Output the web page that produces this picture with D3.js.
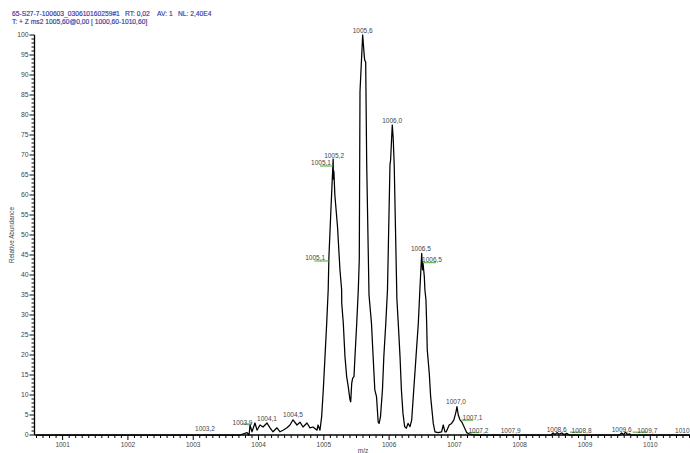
<!DOCTYPE html>
<html>
<head>
<meta charset="utf-8">
<script src="https://cdn.jsdelivr.net/npm/d3@7"></script>
<style>
  html, body { margin: 0; padding: 0; background: #fff; }
  svg { display: block; }
  text { font-family: "Liberation Sans", Arial, sans-serif; }
</style>
</head>
<body>
<svg id="chart" width="690" height="453"></svg>
<script>
// ---------- data ----------
const titleLine1 = ["65-S27-7-100603_030610160259#1", "RT: 0,02", "AV: 1", "NL: 2,40E4"];
const titleLine2 = "T: + Z ms2 1005,60@0,00 [ 1000,60-1010,60]";
const xTicks = [1001, 1002, 1003, 1004, 1005, 1006, 1007, 1008, 1009, 1010];
const yTicks = [0, 5, 10, 15, 20, 25, 30, 35, 40, 45, 50, 55, 60, 65, 70, 75, 80, 85, 90, 95, 100];
const xLabel = "m/z";
const yLabel = "Relative Abundance";

const spectrumMz = [
  1000.600, 1003.716, 1003.824, 1003.855, 1003.870, 1003.900, 1003.946, 1003.977, 1004.023, 1004.069,
  1004.130, 1004.176, 1004.222, 1004.283, 1004.329, 1004.375, 1004.436, 1004.482, 1004.528, 1004.589,
  1004.635, 1004.681, 1004.742, 1004.788, 1004.834, 1004.896, 1004.911, 1004.941, 1004.967, 1004.992,
  1005.018, 1005.044, 1005.067, 1005.078, 1005.108, 1005.143, 1005.146, 1005.154, 1005.169, 1005.210,
  1005.247, 1005.273, 1005.274, 1005.298, 1005.324, 1005.350, 1005.374, 1005.401, 1005.412, 1005.427,
  1005.442, 1005.462, 1005.477, 1005.504, 1005.528, 1005.543, 1005.554, 1005.595, 1005.620, 1005.628,
  1005.641, 1005.657, 1005.692, 1005.730, 1005.755, 1005.781, 1005.807, 1005.832, 1005.847, 1005.868,
  1005.898, 1005.919, 1005.949, 1005.975, 1006.013, 1006.023, 1006.048, 1006.055, 1006.063, 1006.078,
  1006.119, 1006.140, 1006.167, 1006.188, 1006.212, 1006.238, 1006.264, 1006.289, 1006.320, 1006.346,
  1006.370, 1006.412, 1006.447, 1006.473, 1006.499, 1006.504, 1006.511, 1006.519, 1006.539, 1006.548,
  1006.564, 1006.575, 1006.584, 1006.615, 1006.636, 1006.676, 1006.702, 1006.752, 1006.804, 1006.829,
  1006.855, 1006.875, 1006.920, 1006.957, 1006.992, 1007.024, 1007.039, 1007.059, 1007.085, 1007.111,
  1007.146, 1007.187, 1007.238, 1007.300, 1008.480, 1008.510, 1008.540, 1008.570, 1008.600, 1008.640,
  1008.680, 1008.720, 1008.760, 1009.530, 1009.560, 1009.590, 1009.620, 1009.650, 1009.680, 1009.710,
  1010.600
];
const spectrumIntensity = [
  0, 0, 0.6, 0, 2.5, 0.8, 3.0, 1.2, 2.5, 2.0,
  3.0, 1.8, 0.8, 1.8, 0.8, 1.2, 1.8, 2.5, 3.8, 2.5,
  3.2, 2.0, 3.0, 1.8, 2.0, 1.2, 2.5, 1.2, 4.6, 11.3,
  19.6, 27.9, 36.3, 44.5, 56.0, 69.0, 64.0, 66.0, 60.0, 52.0,
  41.3, 36.3, 33.0, 28.0, 19.6, 14.6, 12.1, 8.8, 8.3, 12.9,
  14.2, 14.6, 19.6, 27.9, 36.3, 43.8, 85.8, 100, 94.6, 93.6,
  93.3, 67.5, 35.0, 27.9, 19.6, 11.3, 9.6, 3.3, 2.9, 4.6,
  11.3, 19.6, 27.9, 36.3, 67.5, 68.8, 77.5, 76.0, 74.0, 67.5,
  34.0, 27.9, 19.6, 11.3, 5.4, 2.1, 1.7, 2.9, 2.1, 3.8,
  9.6, 19.6, 27.9, 37.0, 45.4, 43.8, 41.3, 43.0, 39.6, 36.3,
  33.8, 27.9, 21.3, 15.4, 9.6, 2.9, 0.8, 0.6, 0.8, 2.5,
  0.8, 0.8, 2.5, 2.9, 3.8, 5.8, 7.1, 5.0, 3.8, 3.3,
  2.1, 0.6, 0.2, 0, 0, 0.5, 0.1, 0.6, 0.2, 0.5,
  0.1, 0.4, 0, 0, 0.5, 0.1, 0.7, 0.1, 0.3, 0,
  0
];

const peakLabelText = ["1003,2", "1003,9", "1004,1", "1004,5", "1005,1", "1005,2", "1005,6", "1006,0",
  "1005,1", "1006,5", "1006,5", "1007,0", "1007,1", "1007,2", "1007,9", "1008,6", "1008,8", "1009,6", "1009,7", "1010"];
const peakLabelMz = [1003.180, 1003.755, 1004.130, 1004.528, 1004.957, 1005.157, 1005.595, 1006.047,
  1004.867, 1006.487, 1006.657, 1007.024, 1007.277, 1007.367, 1007.862, 1008.566, 1008.947, 1009.561, 1009.954, 1010.490];
const peakLabelIntensity = [0.9, 2.6, 3.4, 4.4, 67.4, 69.25, 100.6, 78,
  43.75, 46, 43.25, 7.75, 3.8, 0.6, 0.6, 0.8, 0.6, 0.8, 0.6, 0.6];

const flagStartMz = [1003.747, 1004.941, 1004.857, 1006.526, 1007.105, 1007.228, 1008.770, 1009.730];
const flagEndMz = [1003.900, 1005.133, 1005.072, 1006.718, 1007.289, 1007.384, 1008.949, 1009.954];
const flagIntensity = [2.75, 67.25, 43.5, 43.1, 3.7, 0.6, 0.7, 0.7];

// ---------- layout ----------
const svg = d3.select("#chart");
const x = d3.scaleLinear().domain([1000.6, 1010.6]).range([36.5, 689.5]);
const y = d3.scaleLinear().domain([0, 100]).range([435, 35]);
const axisX = 34.5;
const textCol = "#444";
const titleCol = "#3535a0";

// title
const t1x = [12, 125, 157, 178];
titleLine1.forEach((s, i) => {
  svg.append("text").attr("x", t1x[i]).attr("y", 16)
    .attr("font-size", 6.7).attr("fill", titleCol)
    .attr("stroke", titleCol).attr("stroke-width", 0.15).text(s);
});
svg.append("text").attr("x", 12).attr("y", 24)
  .attr("font-size", 6.7).attr("fill", titleCol)
  .attr("stroke", titleCol).attr("stroke-width", 0.15).text(titleLine2);

// y axis
const yMinor = d3.range(0, 101, 1);
const yAxisG = svg.append("g").attr("transform", `translate(${axisX},0)`);
yAxisG.append("line").attr("x1", 0).attr("x2", 0).attr("y1", y(100)).attr("y2", y(0))
  .attr("stroke", "#000").attr("stroke-width", 1.3);
yAxisG.selectAll("line.minor").data(yMinor).join("line").attr("class", "minor")
  .attr("x1", d => d % 5 === 0 ? -5 : -3).attr("x2", 0)
  .attr("y1", d => y(d)).attr("y2", d => y(d))
  .attr("stroke", "#000").attr("stroke-width", 1);
yAxisG.selectAll("text").data(yTicks).join("text")
  .attr("x", -6).attr("y", d => y(d) + 2.3)
  .attr("text-anchor", "end").attr("font-size", 6.8).attr("fill", textCol).text(d => d);

svg.append("text").attr("transform", `translate(14,${y(50)}) rotate(-90)`)
  .attr("text-anchor", "middle").attr("font-size", 6.3).attr("fill", textCol).text(yLabel);

// x axis
const xMinor = d3.range(10006, 10107, 1).map(d => d / 10);
const xAxisG = svg.append("g");
xAxisG.append("line").attr("x1", axisX).attr("x2", 690).attr("y1", y(0)).attr("y2", y(0))
  .attr("stroke", "#000").attr("stroke-width", 1.3);
xAxisG.selectAll("line.minor").data(xMinor).join("line").attr("class", "minor")
  .attr("x1", d => x(d)).attr("x2", d => x(d))
  .attr("y1", y(0)).attr("y2", d => Math.abs(d - Math.round(d)) < 1e-6 ? y(0) + 5 : y(0) + 3)
  .attr("stroke", "#000").attr("stroke-width", 1);
xAxisG.selectAll("text").data(xTicks).join("text")
  .attr("x", d => x(d)).attr("y", y(0) + 11.5)
  .attr("text-anchor", "middle").attr("font-size", 6.5).attr("fill", textCol).text(d => d);
svg.append("text").attr("x", (x.range()[0] + x.range()[1]) / 2).attr("y", 453)
  .attr("text-anchor", "middle").attr("font-size", 6.5).attr("fill", textCol).text(xLabel);

// spectrum
const pts = spectrumMz.map((m, i) => [m, spectrumIntensity[i]]);
const line = d3.line().x(d => x(d[0])).y(d => y(d[1]));
svg.append("path").datum(pts).attr("d", line)
  .attr("fill", "none").attr("stroke", "#000").attr("stroke-width", 1.25)
  .attr("stroke-linejoin", "round");

// flags (green)
svg.selectAll("line.flag").data(flagStartMz).join("line").attr("class", "flag")
  .attr("x1", (d, i) => x(d)).attr("x2", (d, i) => x(flagEndMz[i]))
  .attr("y1", (d, i) => y(flagIntensity[i])).attr("y2", (d, i) => y(flagIntensity[i]))
  .attr("stroke", "#6cbf5a").attr("stroke-width", 1.3);

// peak labels
svg.selectAll("text.peak").data(peakLabelText).join("text").attr("class", "peak")
  .attr("x", (d, i) => x(peakLabelMz[i])).attr("y", (d, i) => y(peakLabelIntensity[i]))
  .attr("text-anchor", "middle").attr("font-size", 6.5).attr("fill", textCol).text(d => d);
</script>
</body>
</html>
